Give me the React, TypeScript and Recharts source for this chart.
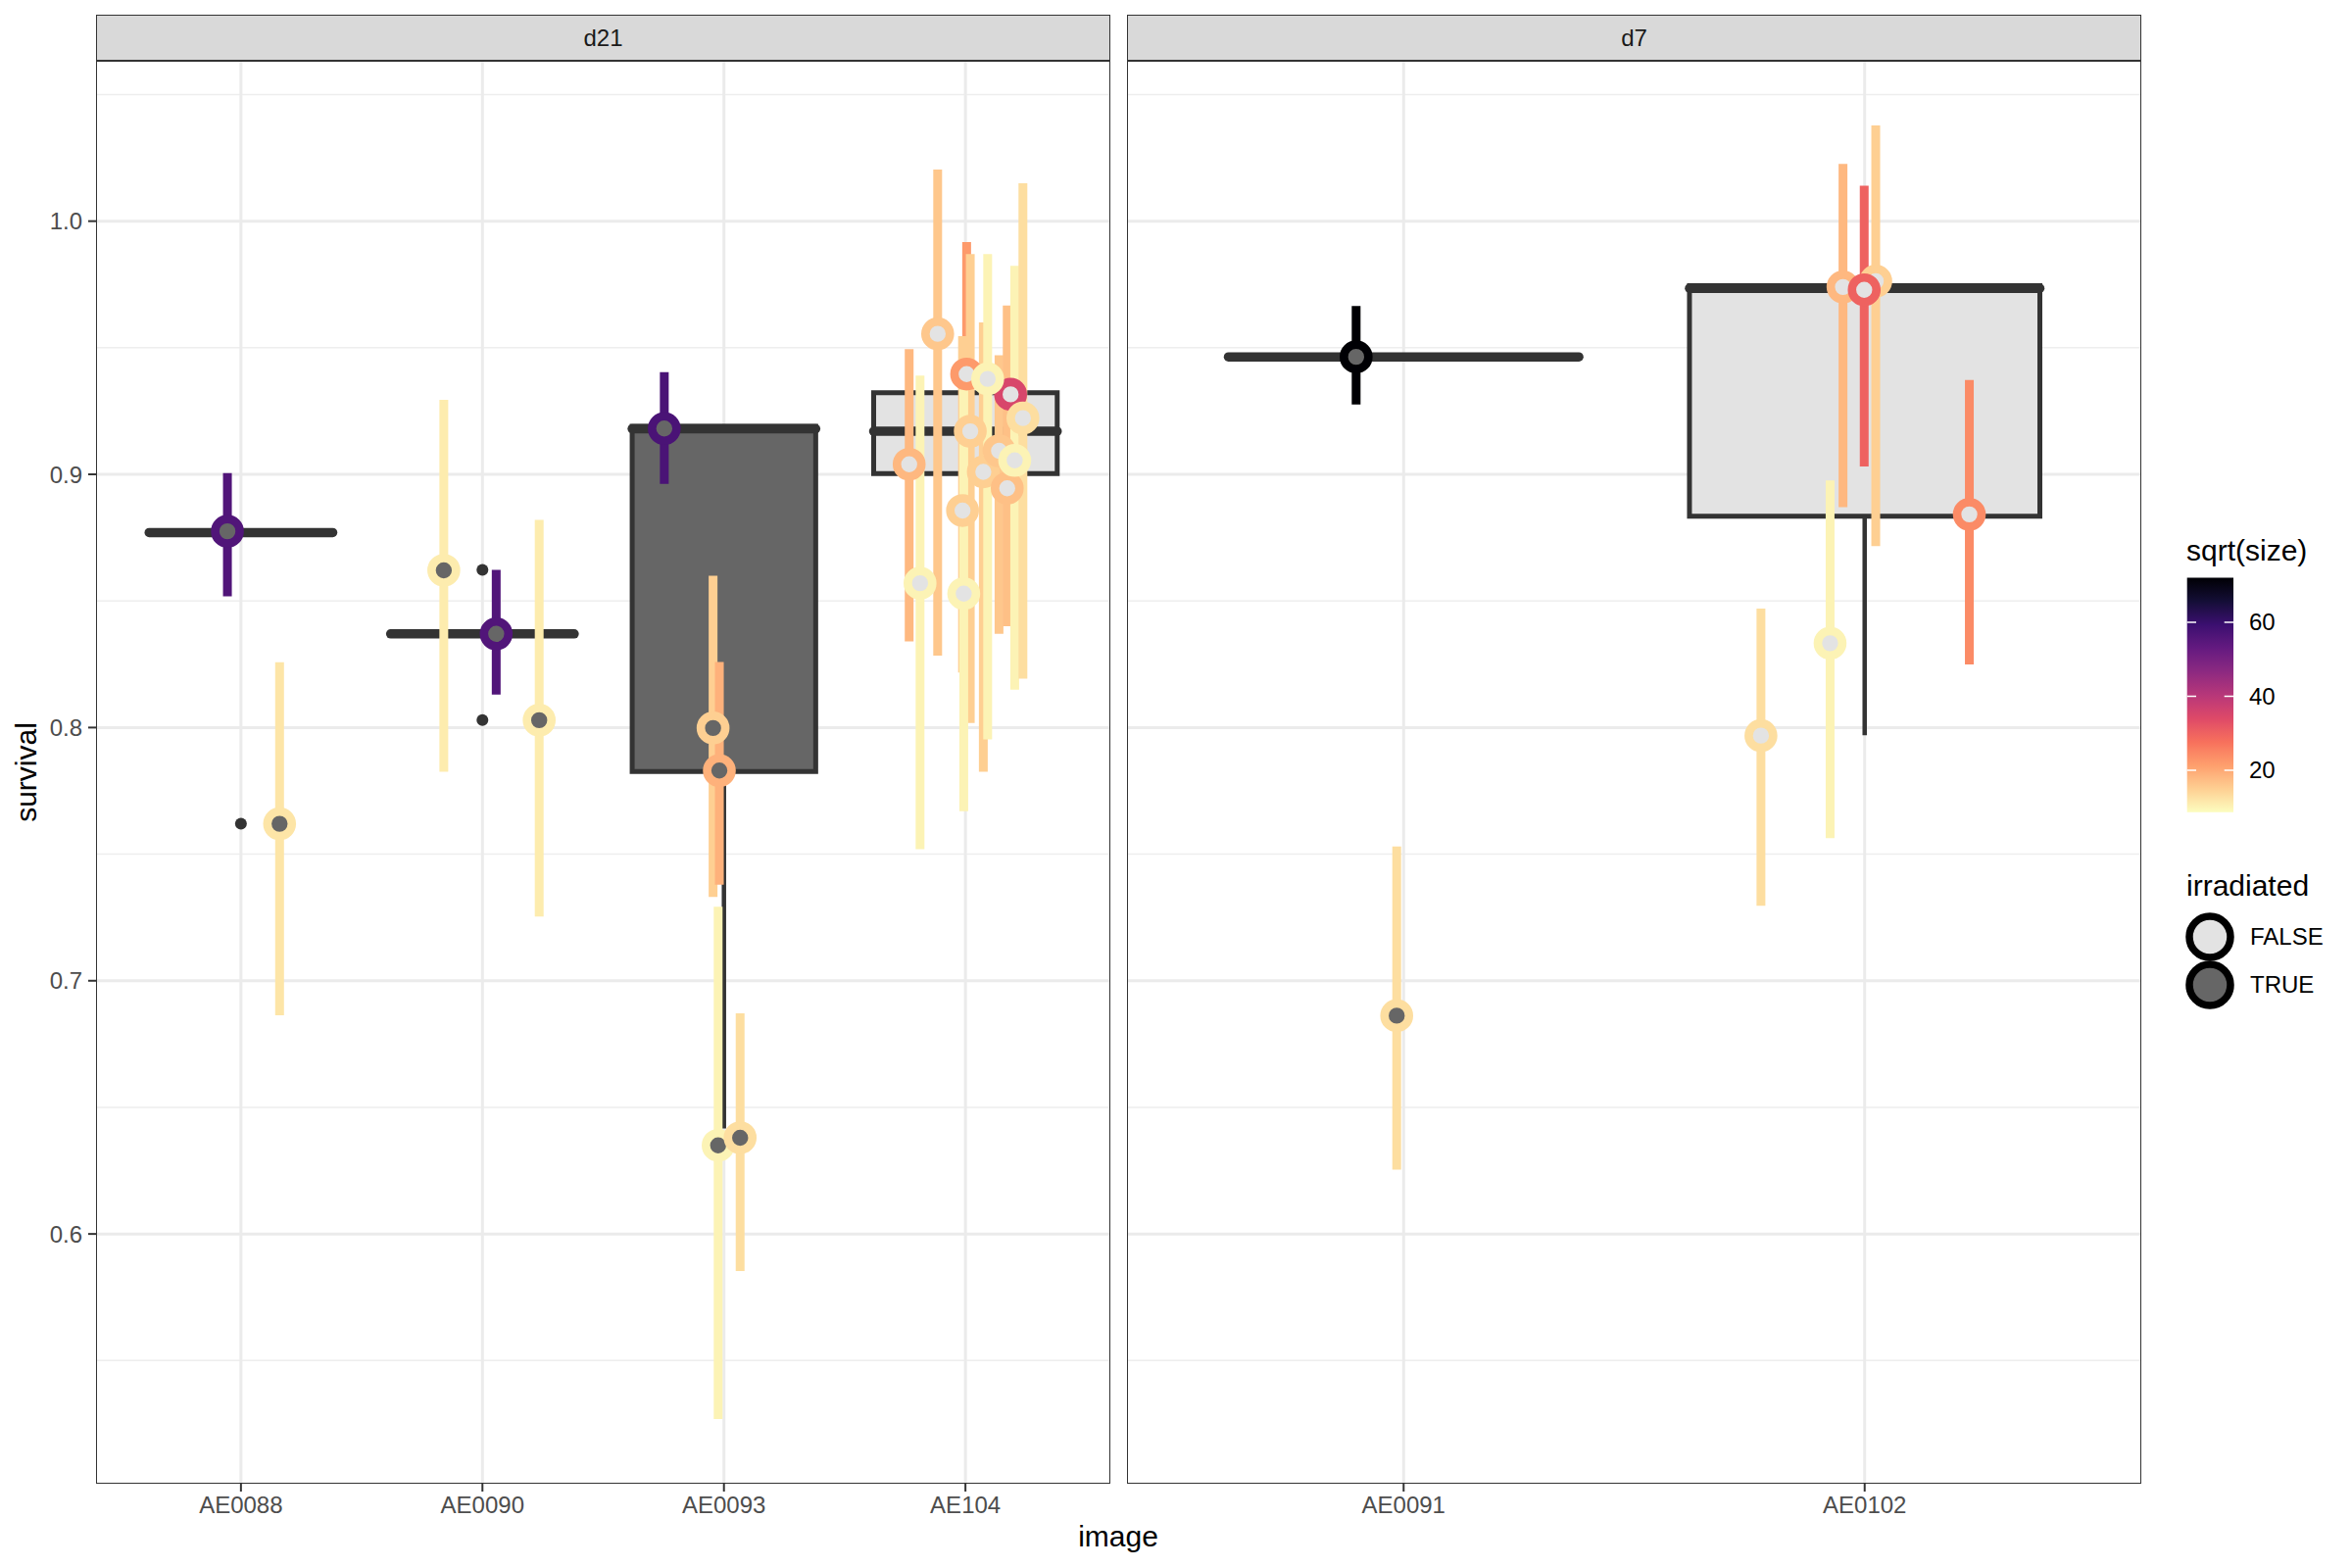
import React from "react";
import { ComposedChart, XAxis, YAxis, CartesianGrid, Line, Scatter, ReferenceArea } from "recharts";

// facet d21
const d21Images = ["AE0088", "AE0090", "AE0093", "AE104"];
// [image index, jitter, survival, lower, upper, sqrt(size), irradiated]
const d21Points = [
  [1, -0.056, 0.8775, 0.8518, 0.9005, 56, true],
  [1, 0.16, 0.762, 0.6864, 0.8258, 12, true],
  [2, -0.16, 0.8621, 0.7825, 0.9294, 11, true],
  [2, 0.057, 0.837, 0.813, 0.8623, 56, true],
  [2, 0.235, 0.8029, 0.7254, 0.882, 11, true],
  [3, -0.247, 0.9181, 0.8962, 0.9404, 57, true],
  [3, -0.045, 0.7998, 0.7331, 0.86, 15, true],
  [3, -0.019, 0.783, 0.7379, 0.8259, 19, true],
  [3, -0.024, 0.635, 0.5269, 0.7292, 10, true],
  [3, 0.067, 0.638, 0.5853, 0.6871, 13, true],
  [4, -0.233, 0.904, 0.834, 0.9495, 18, false],
  [4, -0.188, 0.857, 0.752, 0.939, 10, false],
  [4, -0.115, 0.9555, 0.8284, 1.0204, 16, false],
  [4, 0.005, 0.9396, 0.888, 0.9917, 22, false],
  [4, 0.187, 0.9316, 0.915, 0.948, 35, false],
  [4, -0.012, 0.8857, 0.8217, 0.9546, 15, false],
  [4, 0.02, 0.917, 0.8018, 0.987, 15, false],
  [4, -0.007, 0.8529, 0.767, 0.94, 10, false],
  [4, 0.074, 0.901, 0.7825, 0.96, 15, false],
  [4, 0.092, 0.9377, 0.7953, 0.987, 10, false],
  [4, 0.139, 0.9093, 0.837, 0.947, 16, false],
  [4, 0.173, 0.8945, 0.84, 0.9667, 17, false],
  [4, 0.204, 0.9055, 0.815, 0.9824, 10, false],
  [4, 0.238, 0.9222, 0.8193, 1.015, 13, false],
];
// [image index, lower whisker, q1, median, q3, upper whisker, irradiated]
const d21Boxes = [
  [1, 0.877, 0.877, 0.877, 0.877, 0.877, true],
  [2, 0.837, 0.837, 0.837, 0.837, 0.837, true],
  [3, 0.6417, 0.7826, 0.918, 0.919, 0.919, true],
  [4, 0.9003, 0.9003, 0.917, 0.9322, 0.9322, false],
];
const d21Outliers = [
  [1, 0.762],
  [2, 0.8623],
  [2, 0.803],
];

// facet d7
const d7Images = ["AE0091", "AE0102"];
const d7Points = [
  [1, -0.103, 0.9464, 0.9276, 0.9665, 72, true],
  [1, -0.015, 0.6862, 0.6254, 0.753, 13, true],
  [2, -0.225, 0.7968, 0.7296, 0.847, 13, false],
  [2, -0.075, 0.8333, 0.7563, 0.8976, 10, false],
  [2, -0.047, 0.974, 0.887, 1.0226, 18, false],
  [2, 0.024, 0.9763, 0.8717, 1.0378, 15, false],
  [2, -0.001, 0.9729, 0.9031, 1.014, 30, false],
  [2, 0.227, 0.8842, 0.8249, 0.9373, 24, false],
];
const d7Boxes = [
  [1, 0.9464, 0.9464, 0.9464, 0.9464, 0.9464, true],
  [2, 0.797, 0.8835, 0.9735, 0.9745, 0.9745, false],
];
const d7Outliers = [[1, 0.686]];

const majorY = [0.6, 0.7, 0.8, 0.9, 1.0];
const minorY = [0.55, 0.65, 0.75, 0.85, 0.95, 1.05];
const sizeLimits = [8.66, 72.05];
const sizeBreaks = [20, 40, 60];

const MAGMA = ["#000004", "#140E36", "#3B0F70", "#641A80", "#8C2981", "#B73779", "#DE4968", "#F7705C", "#FE9F6D", "#FECF92", "#FCFDBF"];
const FONT = "'Liberation Sans', Arial, sans-serif";
const FILL_TRUE = "#666666";
const FILL_FALSE = "#E3E3E3";
const BOX_HALF = 0.38;

function hex(c) {
  return [1, 3, 5].map((i) => parseInt(c.slice(i, i + 2), 16));
}

function magma(t) {
  const p = Math.max(0, Math.min(1, t)) * (MAGMA.length - 1);
  const i = Math.min(MAGMA.length - 2, Math.floor(p));
  const f = p - i;
  const a = hex(MAGMA[i]);
  const b = hex(MAGMA[i + 1]);
  const c = a.map((v, k) => Math.round(v + (b[k] - v) * f));
  return `rgb(${c[0]},${c[1]},${c[2]})`;
}

// reversed magma: small = pale yellow, big = black
const sizeColour = (s) => magma(1 - (s - sizeLimits[0]) / (sizeLimits[1] - sizeLimits[0]));

// shared y range: data range plus 5% each side
const allY = [...d21Points, ...d7Points].flatMap((p) => [p[3], p[4]]);
const yMin = Math.min(...allY);
const yMax = Math.max(...allY);
const yPad = (yMax - yMin) * 0.05;
const yDomain = [yMin - yPad, yMax + yPad];

const PLOT_TOP = 62;
const AXIS_H = 86;
const CHART_H = 1600;

function Ring(props) {
  const { cx, cy, payload } = props;
  if (cx == null || cy == null) return null;
  return (
    <circle cx={cx} cy={cy} r={12.5} fill={payload.irr ? FILL_TRUE : FILL_FALSE} stroke={payload.col} strokeWidth={8.6} />
  );
}

function Dot(props) {
  const { cx, cy } = props;
  if (cx == null || cy == null) return null;
  return <circle cx={cx} cy={cy} r={6} fill="#333333" />;
}

function Panel({ images, points, boxes, outliers, showY, left, width, yWidth, title }) {
  const n = images.length;
  const cats = images.map((_, i) => i + 1);
  const rings = points.map((p) => ({ x: p[0] + p[1], y: p[2], col: sizeColour(p[5]), irr: p[6] }));
  const dots = outliers.map((o) => ({ x: o[0], y: o[1] }));
  const plotLeft = left + (showY ? yWidth : 0);
  const plotW = width - (showY ? yWidth : 0);
  return (
    <>
      <div
        style={{
          position: "absolute",
          left: plotLeft,
          top: 15,
          width: plotW,
          height: PLOT_TOP - 15,
          boxSizing: "border-box",
          background: "#D9D9D9",
          border: "1.5px solid #333333",
          display: "flex",
          alignItems: "center",
          justifyContent: "center",
          fontSize: 24,
          color: "#1A1A1A",
        }}
      >
        {title}
      </div>
      <div style={{ position: "absolute", left, top: 0 }}>
        <ComposedChart width={width} height={CHART_H} margin={{ top: PLOT_TOP, right: 0, bottom: 0, left: 0 }}>
          <CartesianGrid horizontalValues={minorY} vertical={false} stroke="#EEEEEE" strokeWidth={1.5} />
          <CartesianGrid horizontalValues={majorY} verticalValues={cats} stroke="#EBEBEB" strokeWidth={3} />
          <XAxis
            type="number"
            dataKey="x"
            domain={[0.4, n + 0.6]}
            ticks={cats}
            allowDataOverflow
            height={AXIS_H}
            axisLine={false}
            tickSize={8}
            tickMargin={5}
            tickLine={{ stroke: "#333333", strokeWidth: 2 }}
            tick={{ fontSize: 24, fill: "#4D4D4D", fontFamily: FONT }}
            tickFormatter={(v) => images[v - 1]}
          />
          <YAxis
            type="number"
            domain={yDomain}
            ticks={majorY}
            allowDataOverflow
            hide={!showY}
            width={yWidth}
            axisLine={false}
            tickSize={8}
            tickMargin={6}
            tickLine={{ stroke: "#333333", strokeWidth: 2 }}
            tick={{ fontSize: 24, fill: "#4D4D4D", fontFamily: FONT }}
            tickFormatter={(v) => v.toFixed(1)}
          />
          {boxes.map((b) => (
            <ReferenceArea
              key={`box${b[0]}`}
              x1={b[0] - BOX_HALF}
              x2={b[0] + BOX_HALF}
              y1={b[2]}
              y2={b[4]}
              fill={b[6] ? FILL_TRUE : FILL_FALSE}
              fillOpacity={1}
              stroke="#333333"
              strokeWidth={5}
              ifOverflow="visible"
            />
          ))}
          {boxes.map((b) => (
            <Line
              key={`lw${b[0]}`}
              data={[{ x: b[0], y: b[1] }, { x: b[0], y: b[2] }]}
              dataKey="y"
              stroke="#333333"
              strokeWidth={4.5}
              dot={false}
              activeDot={false}
              legendType="none"
              isAnimationActive={false}
            />
          ))}
          {boxes.map((b) => (
            <Line
              key={`uw${b[0]}`}
              data={[{ x: b[0], y: b[4] }, { x: b[0], y: b[5] }]}
              dataKey="y"
              stroke="#333333"
              strokeWidth={4.5}
              dot={false}
              activeDot={false}
              legendType="none"
              isAnimationActive={false}
            />
          ))}
          {boxes.map((b) => (
            <Line
              key={`md${b[0]}`}
              data={[{ x: b[0] - BOX_HALF, y: b[3] }, { x: b[0] + BOX_HALF, y: b[3] }]}
              dataKey="y"
              stroke="#333333"
              strokeWidth={9.5}
              strokeLinecap="round"
              dot={false}
              activeDot={false}
              legendType="none"
              isAnimationActive={false}
            />
          ))}
          {points.map((p, i) => (
            <Line
              key={`ci${i}`}
              data={[{ x: p[0] + p[1], y: p[3] }, { x: p[0] + p[1], y: p[4] }]}
              dataKey="y"
              stroke={sizeColour(p[5])}
              strokeWidth={9}
              dot={false}
              activeDot={false}
              legendType="none"
              isAnimationActive={false}
            />
          ))}
          <Scatter data={dots} dataKey="y" shape={Dot} isAnimationActive={false} legendType="none" />
          <Scatter data={rings} dataKey="y" shape={Ring} isAnimationActive={false} legendType="none" />
        </ComposedChart>
      </div>
      <div
        style={{
          position: "absolute",
          left: plotLeft,
          top: PLOT_TOP,
          width: plotW,
          height: CHART_H - AXIS_H - PLOT_TOP,
          boxSizing: "border-box",
          border: "1.5px solid #333333",
          pointerEvents: "none",
        }}
      />
    </>
  );
}

function SizeLegend() {
  const top = 589.5;
  const h = 239.3;
  const yOf = (v) => top + h * (1 - (v - sizeLimits[0]) / (sizeLimits[1] - sizeLimits[0]));
  const stops = Array.from({ length: 21 }, (_, i) => i / 20);
  return (
    <svg style={{ position: "absolute", left: 0, top: 0 }} width={2400} height={1600}>
      <defs>
        <linearGradient id="sizegrad" x1="0" y1="0" x2="0" y2="1">
          {stops.map((s) => (
            <stop key={s} offset={s} stopColor={magma(s)} />
          ))}
        </linearGradient>
      </defs>
      <text x={2231} y={572} fontSize={30} fontFamily={FONT} fill="#000">
        sqrt(size)
      </text>
      <rect x={2231.7} y={top} width={47.3} height={h} fill="url(#sizegrad)" />
      {sizeBreaks.map((b) => (
        <g key={b}>
          <line x1={2231.7} x2={2241} y1={yOf(b)} y2={yOf(b)} stroke="#fff" strokeWidth={1.5} />
          <line x1={2269.7} x2={2279} y1={yOf(b)} y2={yOf(b)} stroke="#fff" strokeWidth={1.5} />
          <text x={2295} y={yOf(b)} dy="0.35em" fontSize={24} fontFamily={FONT} fill="#000">
            {b}
          </text>
        </g>
      ))}
      <text x={2231} y={914} fontSize={30} fontFamily={FONT} fill="#000">
        irradiated
      </text>
      <circle cx={2255} cy={956} r={21} fill={FILL_FALSE} stroke="#000" strokeWidth={7.5} />
      <circle cx={2255} cy={1005} r={21} fill={FILL_TRUE} stroke="#000" strokeWidth={7.5} />
      <text x={2296} y={956} dy="0.35em" fontSize={24} fontFamily={FONT} fill="#000">
        FALSE
      </text>
      <text x={2296} y={1005} dy="0.35em" fontSize={24} fontFamily={FONT} fill="#000">
        TRUE
      </text>
    </svg>
  );
}

export default function App() {
  return (
    <div
      style={{
        position: "absolute",
        left: 0,
        top: 0,
        width: 2400,
        height: 1600,
        background: "#ffffff",
        fontFamily: FONT,
        overflow: "hidden",
      }}
    >
      <Panel
        images={d21Images}
        points={d21Points}
        boxes={d21Boxes}
        outliers={d21Outliers}
        showY
        left={0}
        width={1133}
        yWidth={98}
        title="d21"
      />
      <Panel
        images={d7Images}
        points={d7Points}
        boxes={d7Boxes}
        outliers={d7Outliers}
        showY={false}
        left={1150}
        width={1035}
        yWidth={0}
        title="d7"
      />
      <SizeLegend />
      <div
        style={{
          position: "absolute",
          left: 27,
          top: 788,
          transform: "translate(-50%, -50%) rotate(-90deg)",
          fontSize: 30,
          color: "#000",
          whiteSpace: "nowrap",
        }}
      >
        survival
      </div>
      <div
        style={{
          position: "absolute",
          left: 1141,
          top: 1568,
          transform: "translate(-50%, -50%)",
          fontSize: 30,
          color: "#000",
          whiteSpace: "nowrap",
        }}
      >
        image
      </div>
    </div>
  );
}
